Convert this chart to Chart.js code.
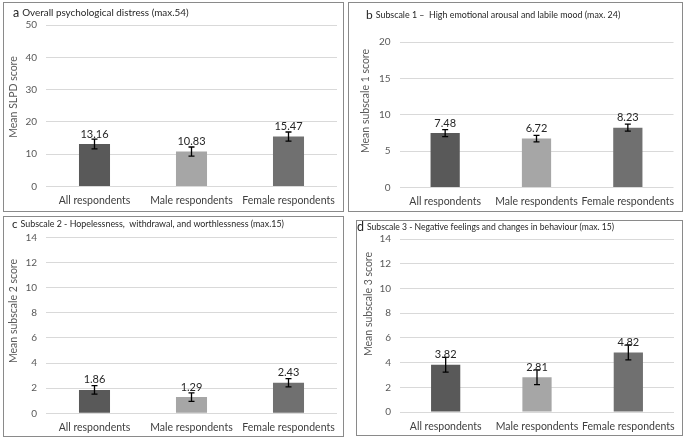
<!DOCTYPE html>
<html><head><meta charset="utf-8">
<script src="https://cdn.jsdelivr.net/npm/chart.js@4.4.0/dist/chart.umd.min.js"></script>
<style>
body{margin:0;background:#fff;width:685px;height:441px;position:relative;overflow:hidden;font-family:Lato,sans-serif}
.box{position:absolute;border:1.5px solid #8a8a8a;box-sizing:border-box}
canvas{position:absolute;left:0;top:0}
</style></head><body>
<div class="box" style="left:3px;top:2px;width:341px;height:210px"></div>
<div class="box" style="left:348px;top:2px;width:335px;height:210px"></div>
<div class="box" style="left:3px;top:216px;width:341px;height:221px"></div>
<div class="box" style="left:356px;top:220px;width:327px;height:216px"></div>
<canvas id="ca" width="685" height="441"></canvas>
<canvas id="cb" width="685" height="441"></canvas>
<canvas id="cc" width="685" height="441"></canvas>
<canvas id="cd" width="685" height="441"></canvas>
<script>
const categories = ['All respondents', 'Male respondents', 'Female respondents'];
const barColors = ['#595959', '#a6a6a6', '#707070'];

const meansA = [13.16, 10.83, 15.47];
const errA = [1.5, 1.4, 1.4];
const meansB = [7.48, 6.72, 8.23];
const errB = [0.48, 0.45, 0.47];
const meansC = [1.86, 1.29, 2.43];
const errC = [0.34, 0.34, 0.33];
const meansD = [3.82, 2.81, 4.82];
const errD = [0.6, 0.6, 0.6];

const yMaxA = 50, yStepA = 10;
const yMaxB = 20, yStepB = 5;
const yMaxC = 14, yStepC = 2;
const yMaxD = 14, yStepD = 2;

const titleLetters = ['a', 'b', 'c', 'd'];
const titleTexts = [
  'Overall psychological distress (max.54)',
  'Subscale 1 \u2013  High emotional arousal and labile mood (max. 24)',
  'Subscale 2 - Hopelessness,  withdrawal, and worthlessness (max.15)',
  'Subscale 3 - Negative feelings and changes in behaviour (max. 15)'
];
const yTitles = ['Mean SLPD score', 'Mean subscale 1 score', 'Mean subscale 2 score', 'Mean subscale 3 score'];

const FONT = 'Lato, sans-serif';

const panels = [
  {id:'ca', means:meansA, err:errA, max:yMaxA, step:yStepA, area:{l:46,r:337,t:25,b:186.5}, title:{x:13,y:13,size:9.9,ls:12.5}, ytitle:{x:14,y:97}},
  {id:'cb', means:meansB, err:errB, max:yMaxB, step:yStepB, area:{l:399.5,r:673.5,t:42,b:187.5}, title:{x:366,y:15,size:8.9,ls:12}, ytitle:{x:366,y:101}},
  {id:'cc', means:meansC, err:errC, max:yMaxC, step:yStepC, area:{l:46,r:337,t:237.5,b:413.3}, title:{x:12,y:224,size:8.9,ls:11.5}, ytitle:{x:14,y:311}},
  {id:'cd', means:meansD, err:errD, max:yMaxD, step:yStepD, area:{l:400,r:674,t:239,b:412}, title:{x:357,y:227,size:8.6,ls:12.5}, ytitle:{x:369,y:304}}
];

const YW = 30, XH = 30;

panels.forEach((p, k) => {
  const deco = {
    id: 'deco' + k,
    afterDatasetsDraw(chart) {
      const ctx = chart.ctx;
      const meta = chart.getDatasetMeta(0);
      const ys = chart.scales.y;
      ctx.save();
      ctx.strokeStyle = '#000';
      ctx.lineWidth = 1.3;
      meta.data.forEach((bar, i) => {
        const v = p.means[i], e = p.err[i];
        const yt = ys.getPixelForValue(v + e), yb = ys.getPixelForValue(v - e);
        ctx.beginPath();
        ctx.moveTo(bar.x, yt); ctx.lineTo(bar.x, yb);
        ctx.moveTo(bar.x - 3, yt); ctx.lineTo(bar.x + 3, yt);
        ctx.moveTo(bar.x - 3, yb); ctx.lineTo(bar.x + 3, yb);
        ctx.stroke();
      });
      ctx.fillStyle = '#262626';
      ctx.font = '11px ' + FONT;
      ctx.textAlign = 'center';
      ctx.textBaseline = 'middle';
      meta.data.forEach((bar, i) => {
        ctx.fillText(p.means[i].toFixed(2), bar.x, bar.y - 10);
      });
      ctx.textAlign = 'left';
      ctx.fillStyle = '#262626';
      ctx.font = p.title.ls + 'px ' + FONT;
      ctx.fillText(titleLetters[k], p.title.x, p.title.y);
      const lw = ctx.measureText(titleLetters[k]).width;
      ctx.font = p.title.size + 'px ' + FONT;
      ctx.fillText(titleTexts[k], p.title.x + lw + 3, p.title.y);
      ctx.translate(p.ytitle.x, p.ytitle.y);
      ctx.rotate(-Math.PI / 2);
      ctx.textAlign = 'center';
      ctx.fillStyle = '#595959';
      ctx.font = '10.5px ' + FONT;
      ctx.fillText(yTitles[k], 0, 0);
      ctx.restore();
    }
  };
  new Chart(document.getElementById(p.id), {
    type: 'bar',
    data: {
      labels: categories,
      datasets: [{ data: p.means, backgroundColor: barColors, borderWidth: 0, barPercentage: 0.32, categoryPercentage: 1 }]
    },
    options: {
      responsive: false,
      animation: false,
      events: [],
      layout: { padding: { left: p.area.l - YW, top: p.area.t, right: 685 - p.area.r, bottom: 441 - p.area.b - XH } },
      plugins: { legend: { display: false }, tooltip: { enabled: false }, title: { display: false } },
      scales: {
        y: {
          min: 0, max: p.max,
          ticks: { stepSize: p.step, color: '#595959', font: { family: FONT, size: 10 }, padding: 9 },
          grid: { color: '#d9d9d9', drawTicks: false, lineWidth: 1 },
          border: { display: false },
          afterFit(s) { s.width = YW; }
        },
        x: {
          ticks: { color: '#404040', font: { family: FONT, size: 10.5 }, padding: 8, maxRotation: 0, autoSkip: false },
          grid: { display: false, drawTicks: false },
          border: { display: false },
          afterFit(s) { s.height = XH; }
        }
      }
    },
    plugins: [deco]
  });
});
</script>
</body></html>
